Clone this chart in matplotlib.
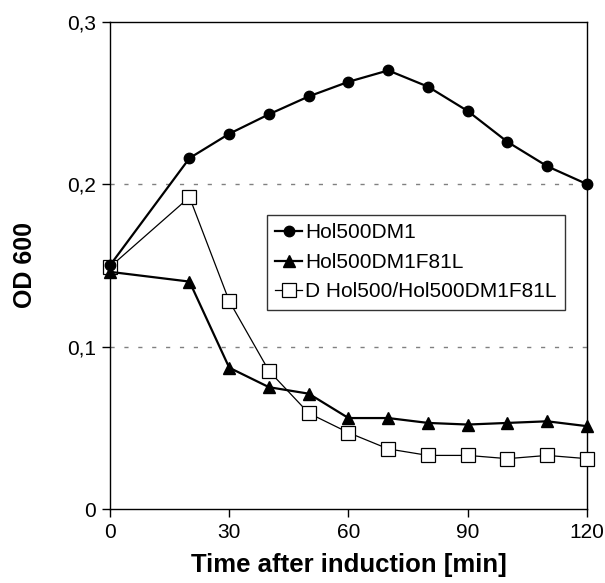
import matplotlib
matplotlib.use("Agg")
import matplotlib.pyplot as plt
from matplotlib.ticker import FuncFormatter

plt.rcParams['font.family'] = ['Liberation Sans', 'DejaVu Sans']

# Zeitpunkte nach Induktion (min)
time_min = [0, 20, 30, 40, 50, 60, 70, 80, 90, 100, 110, 120]

# OD600 Messwerte
od_dm1 = [0.150, 0.216, 0.231, 0.243, 0.254, 0.263, 0.270, 0.260, 0.245, 0.226, 0.211, 0.200]
od_f81l = [0.146, 0.140, 0.087, 0.075, 0.071, 0.056, 0.056, 0.053, 0.052, 0.053, 0.054, 0.051]
od_dual = [0.149, 0.192, 0.128, 0.085, 0.059, 0.047, 0.037, 0.033, 0.033, 0.031, 0.033, 0.031]

labels = ["Hol500DM1", "Hol500DM1F81L", "D Hol500/Hol500DM1F81L"]

fig = plt.figure(figsize=(6.05, 5.83), dpi=100)
ax = fig.add_axes([0.1818, 0.1269, 0.9702 - 0.1818, 0.9628 - 0.1269])

ax.plot(time_min, od_dm1, color='black', lw=1.6, marker='o', ms=7.5,
        clip_on=False, zorder=4, label=labels[0])
ax.plot(time_min, od_f81l, color='black', lw=1.6, marker='^', ms=8.5,
        clip_on=False, zorder=4, label=labels[1])
ax.plot(time_min, od_dual, color='black', lw=0.9, marker='s', ms=9.5,
        mfc='white', mec='black', mew=0.9, clip_on=False, zorder=3,
        label=labels[2])

ax.set_xlim(0, 120)
ax.set_ylim(0, 0.3)
ax.set_xticks([0, 30, 60, 90, 120])
ax.set_yticks([0, 0.1, 0.2, 0.3])
ax.yaxis.set_major_formatter(FuncFormatter(
    lambda v, p: '0' if abs(v) < 1e-9 else ('%.1f' % v).replace('.', ',')))

# gestrichelte Hilfslinien
for gy in [0.1, 0.2]:
    ax.axhline(gy, color='#808080', lw=1.0, ls=(0, (3, 7)), zorder=1)

for s in ax.spines.values():
    s.set_linewidth(1.0)
    s.set_color('black')
ax.tick_params(direction='out', length=6, width=1.0, labelsize=15, pad=4)

ax.set_xlabel('Time after induction [min]', fontsize=18.5, fontweight='bold', labelpad=8)
ax.set_ylabel('OD 600', fontsize=18, fontweight='bold', labelpad=22)

leg = ax.legend(loc='upper left', bbox_to_anchor=(0.329, 0.603), borderaxespad=0,
                fontsize=15, frameon=True, fancybox=False, edgecolor='black',
                handlelength=1.3, handletextpad=0.15, borderpad=0.4,
                labelspacing=0.5)
leg.get_frame().set_linewidth(1.0)

fig.savefig('out.png', dpi=100)
